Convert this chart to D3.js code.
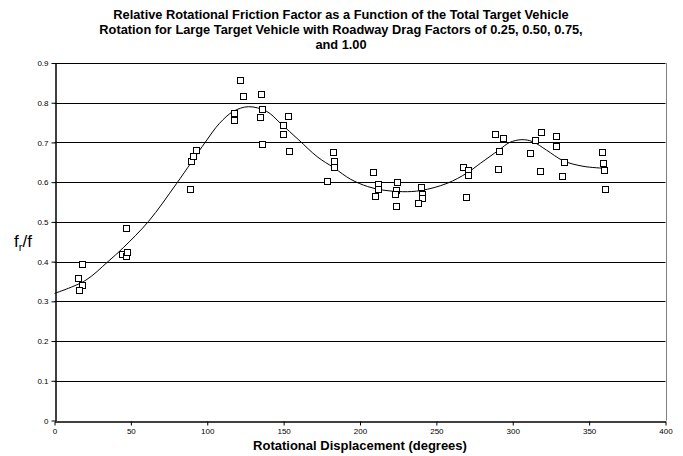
<!DOCTYPE html>
<html>
<head>
<meta charset="utf-8">
<script src="https://cdn.jsdelivr.net/npm/d3@7"></script>
<style>
  body { margin: 0; background: #fff; }
  svg { display: block; font-family: "Liberation Sans", Arial, sans-serif; }
</style>
</head>
<body>
<svg id="main" width="683" height="456"></svg>
<script>
// measured points (rotation in degrees, fr/f)
const pointDeg = [18.3, 15.1, 18.1, 16.2, 44.1, 46.7, 47.6, 47.1,
  88.8, 89.3, 90.6, 92.9, 117.4, 117.4, 121.5, 123.5, 135.3, 135.9, 134.4, 135.9,
  149.9, 149.9, 152.9, 153.4, 178.7, 182.4, 183.2, 182.9,
  208.4, 211.8, 212.0, 209.9, 224.1, 223.8, 223.2, 223.4,
  240.0, 240.4, 240.6, 237.8, 267.5, 270.7, 270.5, 269.2,
  288.4, 293.6, 290.8, 290.2, 311.6, 318.7, 314.4, 318.1,
  328.5, 328.3, 333.4, 332.5, 358.4, 359.1, 359.5, 360.4];
const pointVal = [0.394, 0.360, 0.341, 0.328, 0.419, 0.413, 0.425, 0.485,
  0.584, 0.653, 0.667, 0.682, 0.775, 0.756, 0.857, 0.817, 0.822, 0.784, 0.763, 0.697,
  0.743, 0.721, 0.766, 0.679, 0.604, 0.677, 0.654, 0.638,
  0.626, 0.596, 0.584, 0.566, 0.601, 0.581, 0.570, 0.541,
  0.588, 0.571, 0.560, 0.547, 0.637, 0.630, 0.618, 0.562,
  0.722, 0.712, 0.679, 0.633, 0.673, 0.727, 0.706, 0.628,
  0.716, 0.690, 0.652, 0.615, 0.675, 0.647, 0.631, 0.584];

// fitted curve
const fitDeg = [0, 20, 35, 45, 61.5, 80, 98.6, 108, 117, 127, 139, 148, 160, 172, 183,
  194, 205, 215, 228, 240, 257, 270, 279, 291, 298, 306, 313, 322, 333, 346, 360];
const fitVal = [0.320, 0.352, 0.400, 0.435, 0.501, 0.597, 0.700, 0.748, 0.778, 0.790, 0.778,
  0.748, 0.706, 0.664, 0.636, 0.607, 0.589, 0.580, 0.576, 0.579, 0.597, 0.623, 0.648,
  0.681, 0.700, 0.707, 0.702, 0.681, 0.654, 0.640, 0.635];

const xTicks = [0, 50, 100, 150, 200, 250, 300, 350, 400];
const yTicks = [0, 0.1, 0.2, 0.3, 0.4, 0.5, 0.6, 0.7, 0.8, 0.9];

const titleLines = [
  "Relative Rotational Friction Factor as a Function of the Total Target Vehicle",
  "Rotation for Large Target Vehicle with Roadway Drag Factors of 0.25, 0.50, 0.75,",
  "and 1.00"
];

const svg = d3.select("#main");
const margin = { left: 54.5, right: 17.5, top: 63, bottom: 35.5 };
const W = 683, H = 456;

const x = d3.scaleLinear().domain([0, 400]).range([margin.left, W - margin.right]);
const y = d3.scaleLinear().domain([0, 0.9]).range([H - margin.bottom, margin.top]);

// gridlines
svg.append("g")
  .selectAll("line")
  .data(yTicks.slice(1))
  .enter()
  .append("line")
  .attr("x1", x(0)).attr("x2", x(400))
  .attr("y1", d => Math.round(y(d)) + 0.5).attr("y2", d => Math.round(y(d)) + 0.5)
  .attr("stroke", "#000").attr("stroke-width", 1);

// right border of plot area
svg.append("line")
  .attr("x1", Math.round(x(400)) + 0.5).attr("x2", Math.round(x(400)) + 0.5)
  .attr("y1", y(0.9)).attr("y2", y(0))
  .attr("stroke", "#808080");

// axes
const xAxis = svg.append("g")
  .attr("transform", `translate(0,${Math.round(y(0)) + 0.5})`)
  .call(d3.axisBottom(x).tickValues(xTicks).tickSize(4).tickSizeOuter(0).tickPadding(3));
const yAxis = svg.append("g")
  .attr("transform", `translate(${Math.round(x(0)) + 0.5},0)`)
  .call(d3.axisLeft(y).tickValues(yTicks).tickFormat(d => d === 0 ? "0" : d3.format(".1f")(d))
    .tickSize(4).tickSizeOuter(0).tickPadding(3));
[xAxis, yAxis].forEach(g => {
  g.select(".domain").attr("stroke", "#000").attr("stroke-width", 1.5);
  g.selectAll(".tick line").attr("stroke", "#000");
  g.selectAll("text").attr("font-size", 8).attr("fill", "#000")
    .attr("font-family", "'Liberation Sans', Arial, sans-serif");
});

// fitted curve
const line = d3.line()
  .x((d, i) => x(fitDeg[i]))
  .y((d, i) => y(fitVal[i]))
  .curve(d3.curveCatmullRom.alpha(0.5));
svg.append("path")
  .datum(fitVal)
  .attr("d", line)
  .attr("fill", "none")
  .attr("stroke", "#000")
  .attr("stroke-width", 1);

// markers
const s = 6;
svg.append("g")
  .selectAll("rect")
  .data(pointVal)
  .enter()
  .append("rect")
  .attr("x", (d, i) => Math.round(x(pointDeg[i]) - s / 2) + 0.5)
  .attr("y", d => Math.round(y(d) - s / 2) + 0.5)
  .attr("width", s).attr("height", s)
  .attr("fill", "#fff")
  .attr("stroke", "#000")
  .attr("stroke-width", 1);

// title
svg.append("text")
  .attr("text-anchor", "middle")
  .attr("font-weight", "bold")
  .attr("font-size", 12.8)
  .selectAll("tspan")
  .data(titleLines)
  .enter()
  .append("tspan")
  .attr("x", 341)
  .attr("y", (d, i) => 19 + i * 15)
  .text(d => d);

// axis titles
svg.append("text")
  .attr("x", 360).attr("y", 450)
  .attr("text-anchor", "middle")
  .attr("font-weight", "bold")
  .attr("font-size", 13)
  .text("Rotational Displacement (degrees)");

const yl = svg.append("text")
  .attr("x", 14).attr("y", 247)
  .attr("font-size", 17);
yl.append("tspan").text("f");
yl.append("tspan").attr("font-size", 11).attr("dy", 4).text("r");
yl.append("tspan").attr("dy", -4).text("/f");
</script>
</body>
</html>
